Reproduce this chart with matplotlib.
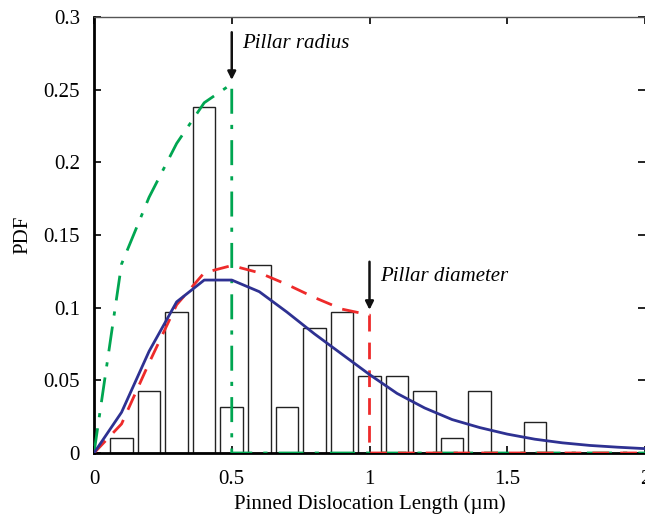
import matplotlib
matplotlib.use("Agg")
import matplotlib.pyplot as plt

plt.rcParams["font.family"] = ["Liberation Serif", "DejaVu Serif"]

# histogram of pinned lengths
bin_centers = [0.1, 0.2, 0.3, 0.4, 0.5, 0.6, 0.7, 0.8, 0.9, 1.0, 1.1, 1.2, 1.3, 1.4, 1.5, 1.6]
bin_pdf = [0.0106, 0.0426, 0.0970, 0.2380, 0.0319, 0.1296, 0.0319, 0.0858, 0.0970,
           0.0532, 0.0532, 0.0426, 0.0106, 0.0426, 0.0, 0.0213]

# fitted curve (solid blue)
fit_x = [0.0, 0.1, 0.2, 0.3, 0.4, 0.5, 0.6, 0.7, 0.8, 0.9, 1.0, 1.1, 1.2, 1.3,
         1.4, 1.5, 1.6, 1.7, 1.8, 1.9, 2.0]
fit_y = [0.0, 0.028, 0.070, 0.104, 0.119, 0.119, 0.111, 0.097, 0.082, 0.068, 0.054,
         0.041, 0.031, 0.023, 0.0175, 0.013, 0.0095, 0.007, 0.0052, 0.004, 0.003]

# truncated at pillar diameter (red dashed)
diam_x = [0.0, 0.1, 0.2, 0.3, 0.4, 0.5, 0.6, 0.7, 0.8, 0.9, 1.0, 1.0, 2.0]
diam_y = [0.0, 0.020, 0.062, 0.102, 0.124, 0.129, 0.124, 0.116, 0.107, 0.099, 0.095, 0.0, 0.0]

# truncated at pillar radius (green dash-dot)
rad_x = [0.0, 0.1, 0.2, 0.3, 0.4, 0.5, 0.5, 2.0]
rad_y = [0.0, 0.130, 0.176, 0.213, 0.241, 0.254, 0.0, 0.0]

fig = plt.figure(figsize=(6.45, 5.14), dpi=100)
ax = fig.add_axes([94 / 645, 61 / 514, 551 / 645, 436 / 514])

ax.bar(bin_centers, bin_pdf, width=0.082, facecolor="white", edgecolor="#222222",
       linewidth=1.0, zorder=1)
ax.plot(rad_x, rad_y, color="#00a651", linestyle=(0, (9, 4, 1.5, 4)), linewidth=2.0, zorder=3)
ax.plot(diam_x, diam_y, color="#ee2a2a", linestyle=(0, (6, 4)), linewidth=2.0, zorder=3)
ax.plot(fit_x, fit_y, color="#2e3192", linewidth=2.0, zorder=4)

ax.annotate("", xy=(0.5, 0.2567), xytext=(0.5, 0.2895),
            arrowprops=dict(arrowstyle="-|>", color="#111111", lw=1.8, mutation_scale=12,
                            shrinkA=0, shrinkB=0))
ax.text(0.536, 0.2815, "Pillar radius", style="italic", fontsize=15, va="center", ha="left")
ax.annotate("", xy=(1.0, 0.0985), xytext=(1.0, 0.1316),
            arrowprops=dict(arrowstyle="-|>", color="#111111", lw=1.8, mutation_scale=12,
                            shrinkA=0, shrinkB=0))
ax.text(1.038, 0.1215, "Pillar diameter", style="italic", fontsize=15, va="center", ha="left")

ax.set_xlim(0, 2)
ax.set_ylim(0, 0.3)
ax.set_xticks([0, 0.5, 1, 1.5, 2])
ax.set_xticklabels(["0", "0.5", "1", "1.5", "2"])
ax.set_yticks([0, 0.05, 0.1, 0.15, 0.2, 0.25, 0.3])
ax.set_yticklabels(["0", "0.05", "0.1", "0.15", "0.2", "0.25", "0.3"])
ax.tick_params(direction="in", length=5, width=1.2, top=True, right=True, labelsize=15)
ax.tick_params(axis="x", pad=12)
ax.tick_params(axis="y", pad=10)
ax.spines["left"].set_linewidth(2.0)
ax.spines["bottom"].set_linewidth(2.0)
ax.spines["top"].set_linewidth(1.0)
ax.spines["top"].set_color("#555555")
ax.spines["right"].set_visible(False)

ax.set_xlabel("Pinned Dislocation Length (\u00b5m)", fontsize=15, labelpad=4)
ax.set_ylabel("PDF", fontsize=15, labelpad=8)

fig.savefig("out.png", dpi=100)
